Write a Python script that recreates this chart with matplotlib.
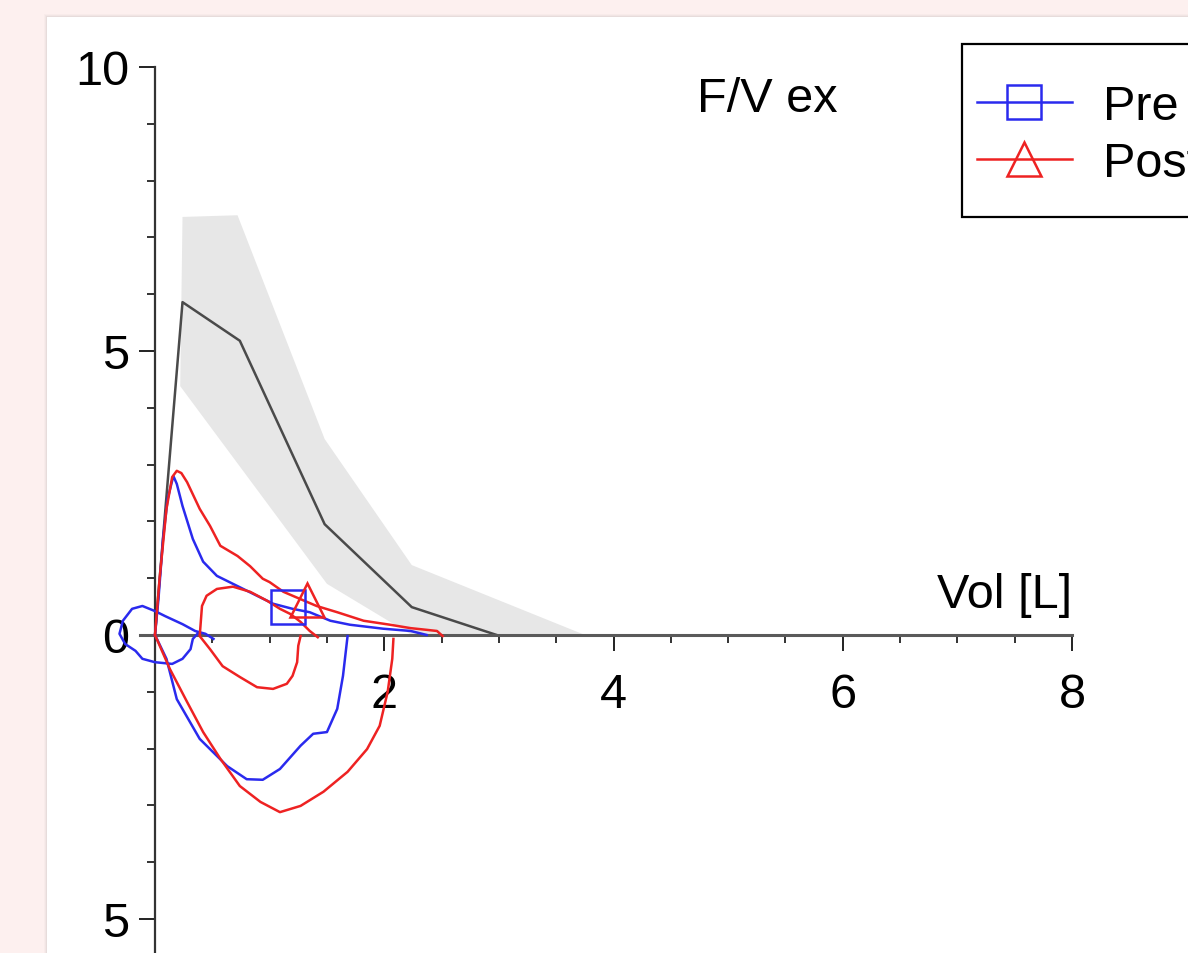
import numpy as np
import matplotlib
matplotlib.use("Agg")
import matplotlib.pyplot as plt
from matplotlib.lines import Line2D
from matplotlib.patches import Rectangle

plt.rcParams["font.family"] = ["Liberation Sans", "DejaVu Sans"]

# predicted flow-volume curve and its normal band
pred_vol = [0.0, 0.24, 0.74, 1.48, 2.24, 2.98]
pred_flow = [0.0, 5.86, 5.18, 1.95, 0.49, 0.0]
band_up_vol = [0.24, 0.72, 1.48, 2.24, 3.75]
band_up_flow = [7.36, 7.39, 3.45, 1.23, 0.0]
band_lo_vol = [0.22, 1.50, 2.24]
band_lo_flow = [4.38, 0.90, 0.0]

# Pre: expiration, inspiration, small tidal loop
pre_exp_vol = [0.00, 0.03, 0.07, 0.11, 0.16, 0.19, 0.24, 0.33, 0.42, 0.54, 0.72, 0.89,
               1.03, 1.20, 1.35, 1.53, 1.70, 1.99, 2.23, 2.37]
pre_exp_flow = [0.00, 0.63, 1.69, 2.39, 2.80, 2.66, 2.27, 1.69, 1.29, 1.04, 0.86, 0.69,
                0.55, 0.46, 0.40, 0.25, 0.18, 0.11, 0.07, 0.00]
pre_insp_vol = [0.00, 0.10, 0.19, 0.39, 0.63, 0.80, 0.94, 1.09, 1.27, 1.38, 1.50, 1.59,
                1.64, 1.68]
pre_insp_flow = [0.00, -0.42, -1.13, -1.83, -2.31, -2.54, -2.55, -2.36, -1.95, -1.74,
                 -1.71, -1.30, -0.72, -0.02]
pre_tidal_vol = [0.51, 0.44, 0.35, 0.24, 0.09, 0.00, -0.11, -0.20, -0.28, -0.31, -0.26,
                 -0.17, -0.11, 0.00, 0.15, 0.24, 0.31, 0.33, 0.37]
pre_tidal_flow = [-0.07, 0.02, 0.07, 0.19, 0.33, 0.42, 0.51, 0.46, 0.25, 0.02, -0.16,
                  -0.28, -0.42, -0.48, -0.51, -0.42, -0.25, -0.07, 0.02]

# Post: expiration, inspiration, small tidal loop
post_exp_vol = [0.00, 0.04, 0.10, 0.15, 0.19, 0.23, 0.28, 0.39, 0.48, 0.57, 0.72, 0.83,
                0.94, 1.00, 1.12, 1.27, 1.41, 1.59, 1.82, 2.05, 2.23, 2.37, 2.46, 2.51]
post_exp_flow = [0.00, 0.99, 2.22, 2.78, 2.89, 2.85, 2.69, 2.22, 1.92, 1.57, 1.39, 1.21,
                 0.99, 0.93, 0.76, 0.63, 0.51, 0.40, 0.25, 0.18, 0.12, 0.09, 0.07, -0.02]
post_insp_vol = [0.00, 0.13, 0.28, 0.42, 0.57, 0.74, 0.92, 1.09, 1.27, 1.47, 1.68, 1.85,
                 1.96, 2.03, 2.07, 2.08]
post_insp_flow = [0.00, -0.60, -1.18, -1.71, -2.18, -2.66, -2.94, -3.12, -3.01, -2.76,
                  -2.41, -2.01, -1.60, -1.00, -0.42, -0.07]
post_tidal_vol = [1.42, 1.35, 1.27, 1.18, 1.09, 0.98, 0.83, 0.68, 0.54, 0.45, 0.41, 0.39,
                  0.48, 0.59, 0.74, 0.89, 1.03, 1.15, 1.20, 1.24, 1.25, 1.27]
post_tidal_flow = [-0.04, 0.07, 0.23, 0.37, 0.46, 0.60, 0.76, 0.85, 0.81, 0.69, 0.51, -0.02,
                   -0.25, -0.55, -0.74, -0.92, -0.95, -0.86, -0.72, -0.48, -0.19, -0.02]

# single marker points
pre_mark = (1.16, 0.50)
post_mark = (1.33, 0.62)

x_ticks = [0, 2, 4, 6, 8]
x_ticklabels = ["", "2", "4", "6", "8"]
y_ticks = [-5, 0, 5, 10]
y_ticklabels = ["5", "0", "5", "10"]
series_labels = ["Pre", "Post"]

BLUE = "#2a2aee"
RED = "#ee2222"
FS = 35
LW = 1.8

W, H = 1188, 954
fig = plt.figure(figsize=(W / 100, H / 100), dpi=100, facecolor="#fdf0ef")

# white panel with a soft shadow
for i, a in enumerate([0.04, 0.06, 0.09]):
    fig.patches.append(Rectangle(((44 + i) / W, 0), 1, (H - 15 - i) / H,
                                 transform=fig.transFigure, facecolor="#888888",
                                 alpha=a, edgecolor="none", zorder=-2))
fig.patches.append(Rectangle((47 / W, 0), 1, (H - 18) / H, transform=fig.transFigure,
                             facecolor="white", edgecolor="none", zorder=-1))

ax = fig.add_axes([140.1 / W, 0, (1072 - 140.1) / W, 886 / H])
ax.patch.set_visible(False)
ax.set_xlim(-0.13, 8)
ax.set_ylim(-5.6, 10)

ax.fill(band_up_vol + band_lo_vol[::-1], band_up_flow + band_lo_flow[::-1],
        color="#e7e7e7", lw=0, zorder=1)
ax.plot(pred_vol, pred_flow, color="#4a4a4a", lw=LW, zorder=2)

for xs, ys in [(pre_exp_vol, pre_exp_flow), (pre_insp_vol, pre_insp_flow),
               (pre_tidal_vol, pre_tidal_flow)]:
    ax.plot(xs, ys, color=BLUE, lw=LW, clip_on=False, zorder=3)
for xs, ys in [(post_exp_vol, post_exp_flow), (post_insp_vol, post_insp_flow),
               (post_tidal_vol, post_tidal_flow)]:
    ax.plot(xs, ys, color=RED, lw=LW, clip_on=False, zorder=3)

ax.plot([pre_mark[0]], [pre_mark[1]], marker="s", ms=24, mfc="none", mec=BLUE,
        mew=LW, ls="none", zorder=4)
ax.plot([post_mark[0]], [post_mark[1]], marker="^", ms=24, mfc="none", mec=RED,
        mew=LW, ls="none", zorder=4)

# axes through the origin
for s in ["top", "right"]:
    ax.spines[s].set_visible(False)
ax.spines["left"].set_position(("data", 0))
ax.spines["bottom"].set_position(("data", 0))
ax.spines["left"].set_color("#333333")
ax.spines["left"].set_linewidth(1.6)
ax.spines["bottom"].set_color("#5a5a5a")
ax.spines["bottom"].set_linewidth(2.2)
for sp in ax.spines.values():
    sp.set_zorder(2.5)

ax.set_xticks(x_ticks)
ax.set_xticklabels(x_ticklabels)
ax.set_xticks(np.arange(0.5, 8, 0.5), minor=True)
ax.set_yticks(y_ticks)
ax.set_yticklabels(y_ticklabels)
ax.set_yticks(np.arange(-5, 10, 1), minor=True)
ax.tick_params(which="major", direction="out", length=11.5, width=1.4, color="#222222",
               labelsize=FS)
ax.tick_params(which="minor", direction="out", length=5.8, width=1.4, color="#333333")
ax.tick_params(axis="x", which="major", pad=15)
ax.tick_params(axis="y", which="major", pad=7)

ax.text(5.34, 9.44, "F/V ex", fontsize=FS, ha="center", va="center")
ax.text(8.0, 0.72, "Vol [L]", fontsize=FS, ha="right", va="center")

# legend: frame drawn separately so its padding can match
fig.patches.append(Rectangle((962 / W, 1 - 218 / H), 0.5, (218 - 45) / H,
                             transform=fig.transFigure, facecolor="white",
                             edgecolor="black", lw=1.6, zorder=5))
handles = [Line2D([], [], color=BLUE, lw=LW, marker="s", ms=24, mfc="none", mew=LW),
           Line2D([], [], color=RED, lw=LW, marker="^", ms=24, mfc="none", mew=LW)]
leg = fig.legend(handles, series_labels, loc="center left",
                 bbox_to_anchor=(977 / W, 1 - 136 / H), bbox_transform=fig.transFigure,
                 borderaxespad=0, borderpad=0, fontsize=FS, frameon=False,
                 handlelength=1.95, handletextpad=0.64, labelspacing=0.25)
leg.set_zorder(6)

fig.savefig("out.png", dpi=100, facecolor=fig.get_facecolor())
